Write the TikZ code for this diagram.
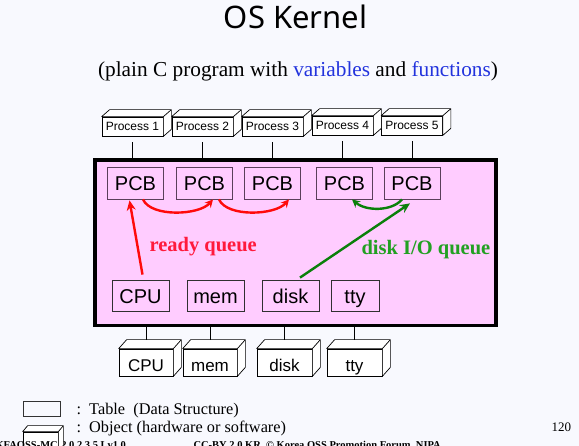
\documentclass[tikz,border=0pt]{standalone}
\usepackage{fontspec}
\setmainfont{Liberation Serif}
\setsansfont{Liberation Sans}
\newfontfamily\titlefont{Noto Sans}
\usetikzlibrary{arrows.meta,calc}
\definecolor{pagebg}{HTML}{F8F9FE}
\definecolor{kernpink}{HTML}{FFCCFF}
\definecolor{pcbline}{HTML}{5A3F5A}
\definecolor{devline}{HTML}{303030}
\definecolor{qred}{HTML}{FF0A0A}
\definecolor{qredtxt}{HTML}{FF1A3C}
\definecolor{qgreen}{HTML}{0A800A}
\definecolor{qgreentxt}{HTML}{22A022}
\definecolor{fnblue}{HTML}{2233DD}
\tikzset{
  procbox/.style={
    rectangle, draw=black, fill=white, line width=0.7pt,
    minimum width=61pt, minimum height=19pt, inner sep=0pt,
    text height=9pt, text depth=0pt,
    font=\sffamily\fontsize{12}{14}\selectfont
  },
  tablebox/.style={
    rectangle, draw=#1, line width=0.8pt,
    minimum width=56pt, minimum height=32pt, inner sep=0pt,
    text height=16pt, text depth=0pt,
    font=\sffamily\fontsize{20}{24}\selectfont
  },
  tablebox/.default=pcbline,
  objbox/.style={
    rectangle, draw=black, fill=white, line width=0.7pt,
    minimum width=54pt, minimum height=27pt, inner sep=0pt,
    text height=19pt, text depth=0pt,
    font=\sffamily\fontsize{17}{20}\selectfont
  },
  objface/.style={draw=black, fill=white, line width=0.7pt, line join=round},
  kernelbox/.style={rectangle, draw=black, fill=kernpink, line width=3.5pt},
  linkline/.style={draw=black, line width=0.7pt},
  qarrow/.style={
    -{Stealth[length=10pt,width=9pt]}, line width=2.4pt, color=#1
  },
  qarrow/.default=qred,
  qlabel/.style={anchor=base west, text=#1,
    font=\bfseries\fontsize{20.5}{24}\selectfont},
  legendtext/.style={anchor=base west, font=\fontsize{16.3}{19}\selectfont},
  foot/.style={anchor=base west, font=\bfseries\fontsize{10.5}{12}\selectfont},
}

\begin{document}
\begin{tikzpicture}[x=1pt, y=-1pt]
\useasboundingbox (0,0) rectangle (579,446);
\clip (0,0) rectangle (579,446);
\fill[pagebg] (0,0) rectangle (579,446);

% title
\node[anchor=base, font=\titlefont\fontsize{31}{36}\selectfont] (title) at (295.5,29) {OS Kernel};
\node[anchor=base, font=\fontsize{21.3}{25}\selectfont] (subtitle) at (298,77)
  {(plain C program with \textcolor{fnblue}{variables} and \textcolor{fnblue}{functions})};

% processes
\node[procbox] (p1) at (132.5,126.5) {Process 1};
\node[procbox] (p2) at (202.5,126.5) {Process 2};
\node[procbox] (p3) at (272.5,126.5) {Process 3};
\node[procbox] (p4) at (342.5,125.5) {Process 4};
\node[procbox] (p5) at (412,125.5) {Process 5};

% kernel
\node[kernelbox, minimum width=401pt, minimum height=165.5pt] (kernel) at (295.5,242.75) {};

\node[tablebox] (pcb1) at (135.5,183) {PCB};
\node[tablebox] (pcb2) at (204.5,183) {PCB};
\node[tablebox] (pcb3) at (272.5,183) {PCB};
\node[tablebox] (pcb4) at (344.5,183) {PCB};
\node[tablebox] (pcb5) at (412,183) {PCB};

\node[tablebox=devline, minimum width=57pt, minimum height=31pt] (cpu) at (140.5,295.5) {CPU};
\node[tablebox=devline, minimum width=57pt, minimum height=31pt] (mem) at (215.5,295.5) {mem};
\node[tablebox=devline, minimum width=57pt, minimum height=31pt] (disk) at (290.5,295.5) {disk};
\node[tablebox=devline, minimum width=48pt, minimum height=31pt] (tty) at (355,295.5) {tty};

% devices
\node[objbox] (ocpu) at (146,362.5) {CPU};
\node[objbox] (omem) at (210,362.5) {mem};
\node[objbox, minimum width=55pt] (odisk) at (284.5,362.5) {disk};
\node[objbox, minimum width=55pt] (otty) at (354.5,362.5) {tty};

% legend
\node[rectangle, draw=black!80, line width=0.7pt, minimum width=37pt, minimum height=15pt] (legtable) at (41.5,408.5) {};
\node[objbox, minimum width=35pt, minimum height=17pt] (legobj) at (40.5,441.5) {};
\node[legendtext] (legtabletxt) at (73,415) {:\ \ Table\ \ (Data Structure)};
\node[legendtext] (legobjtxt) at (73,433) {:\ \ Object (hardware or software)};
\node[anchor=base west, font=\fontsize{13}{15}\selectfont] (pageno) at (548,432) {120};

% footer
\node[foot] (foot1) at (-8,449) {KFAOSS-MC-2.0.2.3.5 Lv1.0};
\node[foot] (foot2) at (190,449) {CC-BY 2.0 KR\ \ \textcopyright\ Korea OSS Promotion Forum, NIPA};

% 3d faces
\foreach \n/\dx/\dy in {p1/8/7,p2/8/7,p3/8/7,p4/8/7,p5/8/7,
                        ocpu/8/9,omem/8/9,odisk/8/9,otty/8/9,legobj/5/6}
  \draw[objface] (\n.north west) -- ++(\dx,-\dy) -- ([shift={(\dx,-\dy)}]\n.north east)
    -- ([shift={(\dx,-\dy)}]\n.south east) -- (\n.south east) -- (\n.north east) -- cycle
    (\n.north east) -- ++(\dx,-\dy);

% connectors
\foreach \n in {p1,p2,p3,p4,p5}
  \draw[linkline] ([yshift=-6pt]\n.south) -- (\n.south |- kernel.north);
\foreach \n in {ocpu,omem,odisk,otty}
  \draw[linkline] (\n.north |- kernel.south) -- ([yshift=9pt]\n.north);

% ready queue
\draw[qarrow] ([xshift=2pt,yshift=5pt]cpu.north) -- ([xshift=-6pt,yshift=-1pt]pcb1.south);
\draw[qarrow, -{Stealth[length=8pt,width=8pt]}]
  ([xshift=7.5pt]pcb1.south) .. controls +(8,18) and +(-14,16) .. ([xshift=8.5pt]pcb2.south);
\draw[qarrow, -{Stealth[length=8pt,width=8pt]}]
  ([xshift=14.5pt]pcb2.south) .. controls +(8,18) and +(-14,16) .. ([xshift=16.5pt]pcb3.south);
\node[qlabel=qredtxt] (readylbl) at (146,252) {ready queue};

% disk queue
\draw[qarrow=qgreen] ([xshift=9.5pt,yshift=2pt]disk.north) -- ([xshift=-2pt,yshift=-4pt]pcb5.south);
\draw[qarrow=qgreen, -{Stealth[length=8pt,width=8pt]}]
  ([xshift=-10pt]pcb5.south) .. controls +(-10,12) and +(14,12) .. ([xshift=7.5pt]pcb4.south);
\node[qlabel=qgreentxt] (disklbl) at (358,254.5) {disk I/O queue};
\end{tikzpicture}
\end{document}
